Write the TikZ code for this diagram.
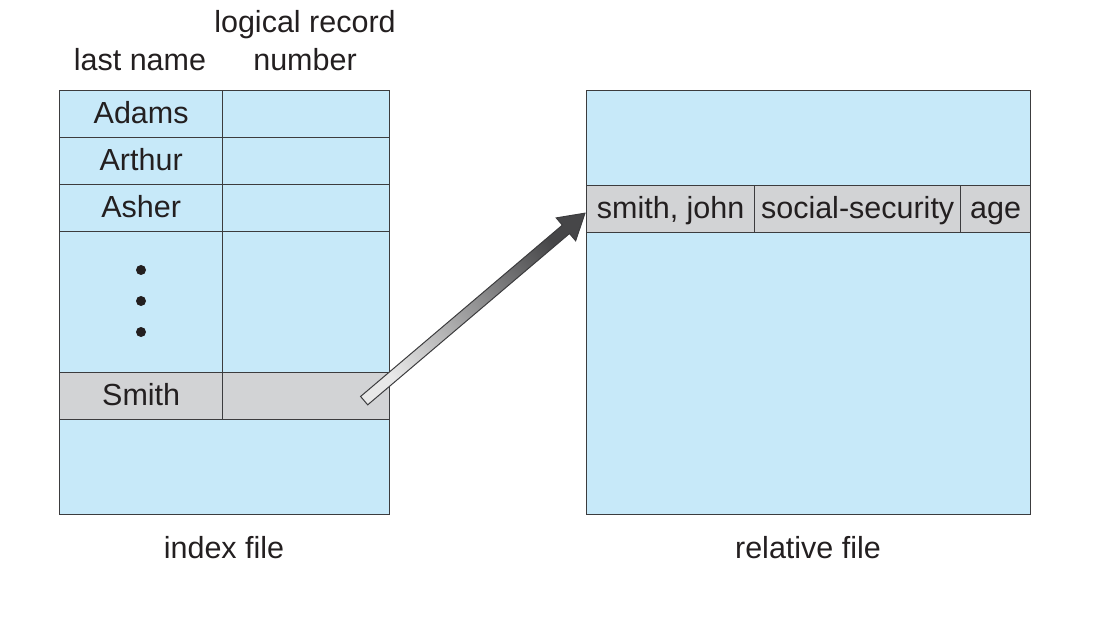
\documentclass[tikz,border=0pt]{standalone}
\usepackage{fontspec}
\setmainfont{Liberation Sans}
\usetikzlibrary{calc}
\definecolor{cellblue}{RGB}{199,233,249}
\definecolor{cellgray}{RGB}{210,211,213}
\definecolor{linec}{RGB}{60,60,62}
\definecolor{textc}{RGB}{35,31,32}
\definecolor{arrlight}{RGB}{232,232,232}
\definecolor{arrdark}{RGB}{70,70,72}
\tikzset{
  cell/.style={draw=linec, line width=1.3pt, fill=cellblue, inner sep=0pt, anchor=north west,
    font=\fontsize{30.5}{36}\selectfont, text=textc, text height=22pt, text depth=3pt},
  graycell/.style={cell, fill=cellgray},
  lbl/.style={font=\fontsize{30.5}{36}\selectfont, text=textc, inner sep=0pt, align=center},
  dot/.style={circle, fill=textc, inner sep=0pt, minimum size=10pt}
}
\begin{document}
\begin{tikzpicture}[x=1pt,y=-1pt]
\useasboundingbox (0,0) rectangle (1108,620);
% headers
\node[lbl] (hlast) at (140,60) {last name};
\node[lbl] (hlog) at (305,25) {logical record};
\node[lbl] (hnum) at (305,60) {number};
% index file
\node[cell, minimum width=163pt, minimum height=47pt] (a1) at (59,90) {Adams};
\node[cell, minimum width=167pt, minimum height=47pt] (a2) at (222,90) {};
\node[cell, minimum width=163pt, minimum height=47pt] (b1) at (59,137) {Arthur};
\node[cell, minimum width=167pt, minimum height=47pt] (b2) at (222,137) {};
\node[cell, minimum width=163pt, minimum height=47pt] (c1) at (59,184) {Asher};
\node[cell, minimum width=167pt, minimum height=47pt] (c2) at (222,184) {};
\node[cell, minimum width=163pt, minimum height=141pt] (d1) at (59,231) {};
\node[cell, minimum width=167pt, minimum height=141pt] (d2) at (222,231) {};
\node[graycell, minimum width=163pt, minimum height=47pt] (s1) at (59,372) {Smith};
\node[graycell, minimum width=167pt, minimum height=47pt] (s2) at (222,372) {};
\node[cell, minimum width=330pt, minimum height=95pt] (e1) at (59,419) {};
\node[dot] (dt1) at (141,270) {};
\node[dot] (dt2) at (141,301) {};
\node[dot] (dt3) at (141,332) {};
\node[lbl] (lidx) at (224,548) {index file};
% relative file
\node[cell, minimum width=444pt, minimum height=424pt] (rel) at (586,90) {};
\node[graycell, minimum width=168pt, minimum height=47pt] (sj) at (586,185) {smith, john};
\node[graycell, minimum width=206pt, minimum height=47pt] (ss) at (754,185) {social-security};
\node[graycell, minimum width=70pt, minimum height=47pt] (ag) at (960,185) {age};
\node[lbl] (lrel) at (808,548) {relative file};
% arrow
\coordinate (tail) at ($(s2.center)+(58,4.5)$);
\coordinate (tip) at ($(sj.west)+(-1,4)$);
\coordinate (hb) at ($(tip)!25pt!(tail)$);
\path[draw=linec, line width=1pt, line join=miter, bottom color=arrlight, top color=arrdark, shading angle=-50]
  ($(tail)!5.5pt!-90:(tip)$) -- ($(hb)!5.5pt!90:(tail)$) -- ($(hb)!15pt!90:(tail)$) -- (tip)
  -- ($(hb)!15pt!-90:(tail)$) -- ($(hb)!5.5pt!-90:(tail)$) -- ($(tail)!5.5pt!90:(tip)$) -- cycle;
\end{tikzpicture}
\end{document}
